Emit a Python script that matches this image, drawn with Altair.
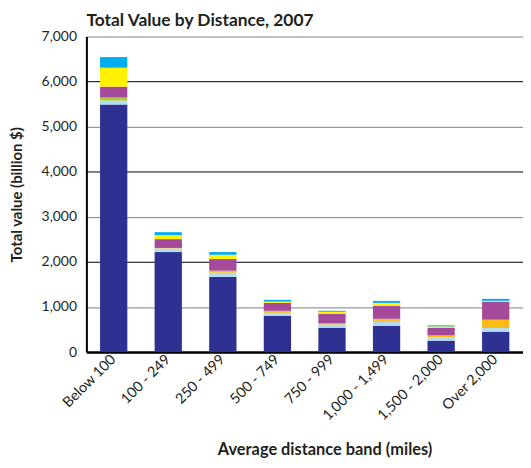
import altair as alt
import pandas as pd

bands = ["Below 100", "100 - 249", "250 - 499", "500 - 749", "750 - 999",
         "1,000 - 1,499", "1,500 - 2,000", "Over 2,000"]
modes = ["Truck", "Rail", "Water", "Air (incl. truck and air)",
         "Multiple modes", "Pipeline", "Other and unknown"]
mode_colors = ["#2E3192", "#B3DCF3", "#A8CB3A", "#FDBA13",
               "#A5499A", "#FFF200", "#00AEEF"]

truck    = [5490, 2218, 1667, 806, 541, 585, 254, 453]
rail     = [90, 82, 95, 66, 73, 88, 73, 82]
water    = [66, 0, 0, 0, 0, 20, 0, 0]
air      = [0, 10, 44, 44, 22, 45, 44, 183]
multiple = [243, 196, 258, 177, 214, 286, 170, 397]
pipeline = [419, 88, 95, 28, 44, 67, 29, 22]
other    = [236, 66, 60, 38, 22, 44, 22, 44]

series = [truck, rail, water, air, multiple, pipeline, other]
rows = []
for mi, (m, vals) in enumerate(zip(modes, series)):
    for b, v in zip(bands, vals):
        rows.append({"band": b, "mode": m, "order": mi, "value": v})
df = pd.DataFrame(rows)

FONT = "Lato"
TXT = "#231F20"

chart = alt.Chart(df).mark_bar().encode(
    x=alt.X("band:N", sort=bands,
            scale=alt.Scale(paddingInner=0.5, paddingOuter=0.25),
            axis=alt.Axis(title="Average distance band (miles)", labelAngle=-45,
                          labelAlign="right", labelBaseline="middle",
                          labelFontSize=14.5, labelPadding=5, ticks=False,
                          domainColor="black", domainWidth=2.5,
                          titleFontSize=16.5, titleFontWeight="bold",
                          titleX=240, titleY=98, titleAlign="center",
                          titleBaseline="middle")),
    y=alt.Y("value:Q", stack="zero",
            scale=alt.Scale(domain=[0, 7000], nice=False),
            axis=alt.Axis(title="Total value (billion $)", format=",.0f",
                          values=[0, 1000, 2000, 3000, 4000, 5000, 6000, 7000],
                          labelFontSize=14, labelPadding=10, ticks=False,
                          domainColor="black", domainWidth=2,
                          grid=True,
                          gridColor={"condition": {"test": "datum.value % 2000 === 0",
                                                   "value": "#000000"},
                                     "value": "#808080"},
                          gridOpacity=1,
                          titleFontSize=15, titleFontWeight="bold",
                          titleX=-70, titleBaseline="middle")),
    color=alt.Color("mode:N", sort=modes,
                    scale=alt.Scale(domain=modes, range=mode_colors),
                    legend=None),
    order=alt.Order("order:Q", sort="ascending"),
).properties(
    width=440, height=318,
    title=alt.TitleParams("Total Value by Distance, 2007", anchor="start",
                          frame="group",
                          fontSize=17.5, fontWeight="bold", font=FONT,
                          color=TXT, offset=0),
    padding={"left": 2, "top": 2, "right": 0, "bottom": 0},
).configure_view(
    stroke=None
).configure_axis(
    labelFont=FONT, titleFont=FONT, labelColor=TXT, titleColor=TXT
)

chart.save("out.html", embed_options={"renderer": "svg", "actions": False})
